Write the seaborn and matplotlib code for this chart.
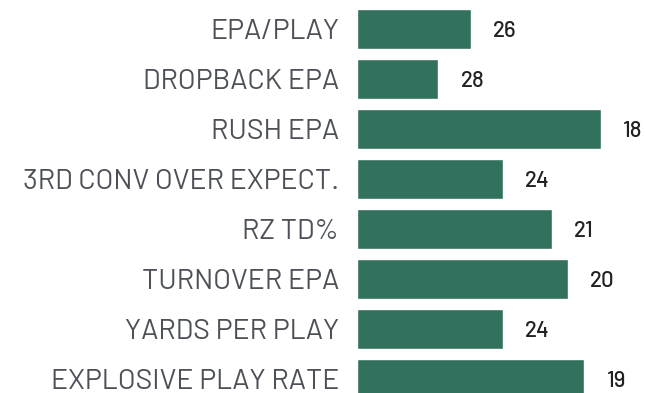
import matplotlib
matplotlib.use("Agg")
import matplotlib.pyplot as plt
import seaborn as sns
import pandas as pd

# Offensive metrics and league rank (1 = best of 32 teams)
metrics = [
    "EPA/PLAY",
    "DROPBACK EPA",
    "RUSH EPA",
    "3RD CONV OVER EXPECT.",
    "RZ TD%",
    "TURNOVER EPA",
    "YARDS PER PLAY",
    "EXPLOSIVE PLAY RATE",
]
ranks = [26, 28, 18, 24, 21, 20, 24, 19]
n_teams = 32

# Bars grow with better rank: length = teams ranked below + 1
df = pd.DataFrame({"metric": metrics, "rank": ranks})
df["score"] = n_teams + 1 - df["rank"]

sns.set_theme(style="white")
plt.rcParams["font.family"] = ["Barlow", "DejaVu Sans"]

W, H = 646, 393
fig = plt.figure(figsize=(W / 100, H / 100), dpi=100)
ax = fig.add_axes([357 / W, 0, 1 - 357 / W, 1])

sns.barplot(data=df, y="metric", x="score", orient="h", color="#32715E",
            saturation=1, width=0.8, ax=ax)

ax.set_xlim(0, 17.8)
ax.set_ylim(7.28, -0.58)
ax.set_xlabel("")
ax.set_ylabel("")
ax.set_xticks([])
for s in ax.spines.values():
    s.set_visible(False)
ax.tick_params(axis="y", length=0, pad=13, labelsize=20.5, labelcolor="#4d5157")

for i, (sc, rk) in enumerate(zip(df["score"], df["rank"])):
    ax.annotate(str(rk), xy=(sc, i), xytext=(16, -1.5), textcoords="offset points",
                va="center", ha="left", fontsize=16, fontweight="medium",
                color="#222222")

fig.savefig("out.png", dpi=100)
